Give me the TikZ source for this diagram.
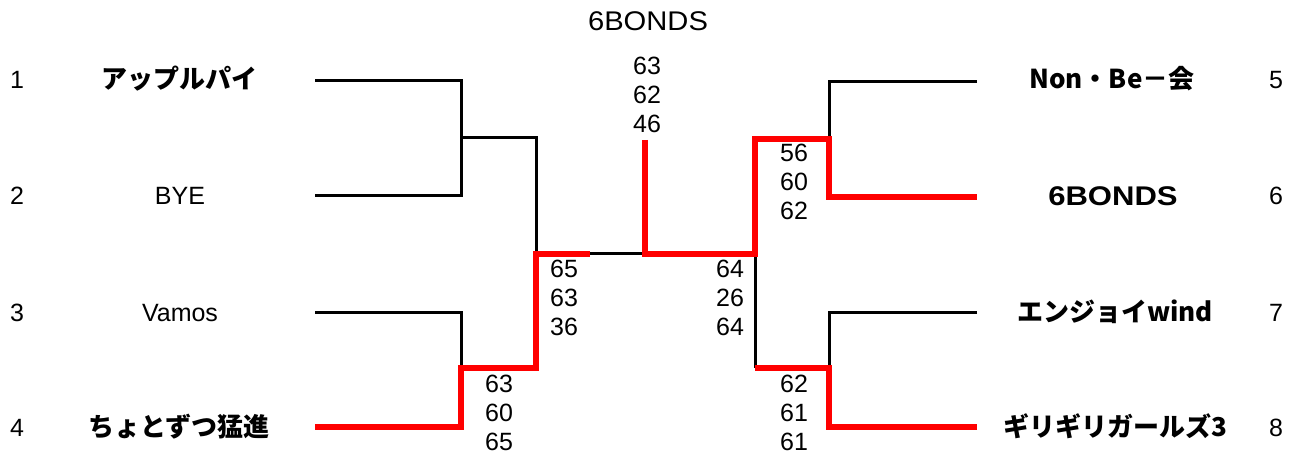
\documentclass[tikz,border=0pt]{standalone}
\usepackage{fontspec}
\setmainfont{Liberation Sans}
\newfontfamily\jp{Noto Sans CJK JP}
\begin{document}
\begin{tikzpicture}[x=1pt,y=-1pt,
  wire/.style={line width=3pt,black,line join=miter},
  win/.style={line width=6pt,red,line join=miter},
  seed/.style={inner sep=0pt,anchor=base,font=\fontsize{25}{29}\selectfont},
  team/.style={inner sep=0pt,anchor=base,font=\fontsize{27}{29}\selectfont\bfseries},
  jteam/.style={inner sep=0pt,anchor=base,font=\fontsize{26}{29}\selectfont\jp\bfseries},
  plain/.style={inner sep=0pt,anchor=base,font=\fontsize{25}{29}\selectfont},
  score/.style={inner sep=0pt,anchor=north west,align=left,font=\fontsize{25}{29}\selectfont}]
\useasboundingbox (0,0) rectangle (1300,454);
% title
\node[plain,font=\fontsize{27}{30}\selectfont] (title) at (648,31) {\scalebox{1.08}[1]{6BONDS}};
% seeds
\node[seed] (s1) at (17,89) {1};
\node[seed] (s2) at (17,205) {2};
\node[seed] (s3) at (17,321) {3};
\node[seed] (s4) at (17,436) {4};
\node[seed] (s5) at (1276,89) {5};
\node[seed] (s6) at (1276,205) {6};
\node[seed] (s7) at (1276,321) {7};
\node[seed] (s8) at (1276,436) {8};
% teams
\node[jteam] (t1) at (179,89) {アップルパイ};
\node[plain] (t2) at (180,205) {BYE};
\node[plain] (t3) at (180,321) {Vamos};
\node[jteam] (t4) at (179,436) {ちょとずつ猛進};
\node[jteam] (t5) at (1112,89) {Non・Be－会};
\node[team] (t6) at (1113,206) {\scalebox{1.15}[1]{6BONDS}};
\node[jteam] (t7) at (1115,321) {エンジョイwind};
\node[jteam] (t8) at (1115,436) {ギリギリガールズ3};
% coordinates
\coordinate (a1) at (315,81);  \coordinate (a2) at (315,196);
\coordinate (a3) at (315,312); \coordinate (a4) at (315,427);
\coordinate (b1) at (977,82);  \coordinate (b2) at (977,197);
\coordinate (b3) at (977,312); \coordinate (b4) at (977,427);
\coordinate (fin) at (645,140);
% black lines
\draw[wire] (a1) -- (461,81) -- (461,196) -- (a2);
\draw[wire] (461,138) -- (536,138) -- (536,254);
\draw[wire] (a3) -- (461,312) -- (461,368);
\draw[wire] (590,254) -- (645,254);
\draw[wire] (b1) -- (829,82) -- (829,139);
\draw[wire] (755,254) -- (755,368);
\draw[wire] (b3) -- (829,312) -- (829,368);
% red lines
\draw[win] (a4) -- (461,427) -- (461,368) -- (536,368) -- (536,254) -- (590,254);
\draw[win] (fin) -- (645,254) -- (755,254) -- (755,139) -- (829,139) -- (829,197) -- (b2);
\draw[win] (b4) -- (829,427) -- (829,368) -- (755,368);
% scores
\node[score] (sc1) at (633,57) {63\\62\\46};
\node[score] (sc2) at (550,260) {65\\63\\36};
\node[score] (sc3) at (716,260) {64\\26\\64};
\node[score] (sc4) at (780,144) {56\\60\\62};
\node[score] (sc5) at (485,375) {63\\60\\65};
\node[score] (sc6) at (780,375) {62\\61\\61};
\end{tikzpicture}
\end{document}
